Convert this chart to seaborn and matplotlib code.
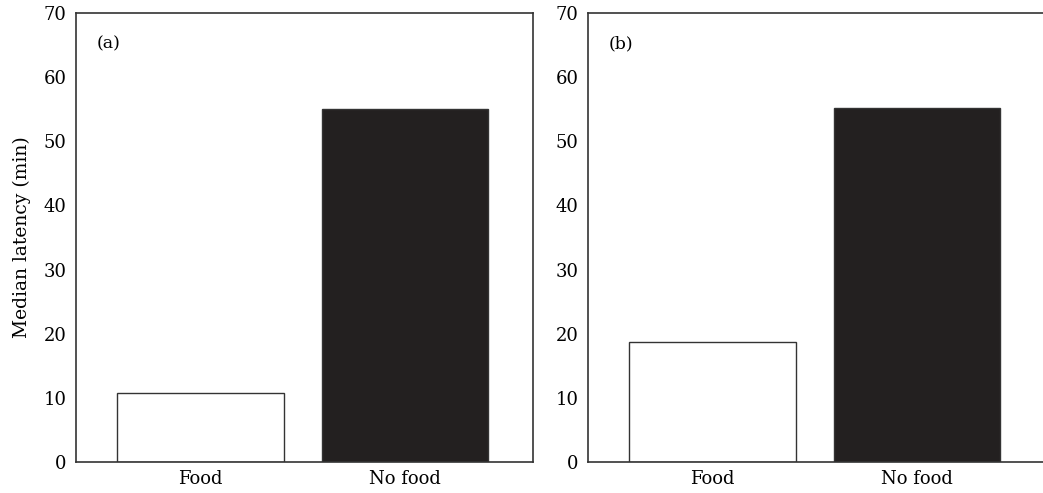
import matplotlib
matplotlib.use("Agg")
import matplotlib.pyplot as plt
import seaborn as sns

categories = ["Food", "No food"]
latency_a = [10.8, 55.0]
latency_b = [18.7, 55.2]
bar_colors = ["white", "#231f20"]
yticks = [0, 10, 20, 30, 40, 50, 60, 70]

sns.set_style("white")
plt.rcParams["font.family"] = ["DejaVu Serif"]
plt.rcParams["font.size"] = 12
plt.rcParams["text.color"] = "black"
plt.rcParams["xtick.labelcolor"] = "black"
plt.rcParams["ytick.labelcolor"] = "black"
plt.rcParams["axes.labelcolor"] = "black"

fig = plt.figure(figsize=(10.43, 4.93), dpi=100)
ax_a = fig.add_axes([0.0729, 0.0629, 0.4382, 0.9107])
ax_b = fig.add_axes([0.5638, 0.0629, 0.4362, 0.9107])

panels = [(ax_a, latency_a, "(a)", 1.626), (ax_b, latency_b, "(b)", 1.616)]
for ax, vals, tag, xr in panels:
    sns.barplot(x=categories, y=vals, hue=categories, palette=bar_colors,
                edgecolor="#333333", linewidth=1.0, width=0.815,
                legend=False, ax=ax)
    ax.set_xlim(-0.609, xr)
    ax.set_ylim(0, 70)
    ax.set_yticks(yticks)
    ax.tick_params(axis="y", direction="in", length=14, width=1.2,
                   color="#666666", pad=7, labelsize=13)
    ax.tick_params(axis="x", length=0, pad=6, labelsize=13)
    for s in ax.spines.values():
        s.set_color("#333333")
        s.set_linewidth(1.2)
    ax.text(0.045, 0.95, tag, transform=ax.transAxes, fontsize=12.5,
            va="top", ha="left")

ax_b.spines["right"].set_visible(False)
ax_a.set_ylabel("Median latency (min)", fontsize=13.5, labelpad=9)

fig.savefig("out.png", dpi=100)
